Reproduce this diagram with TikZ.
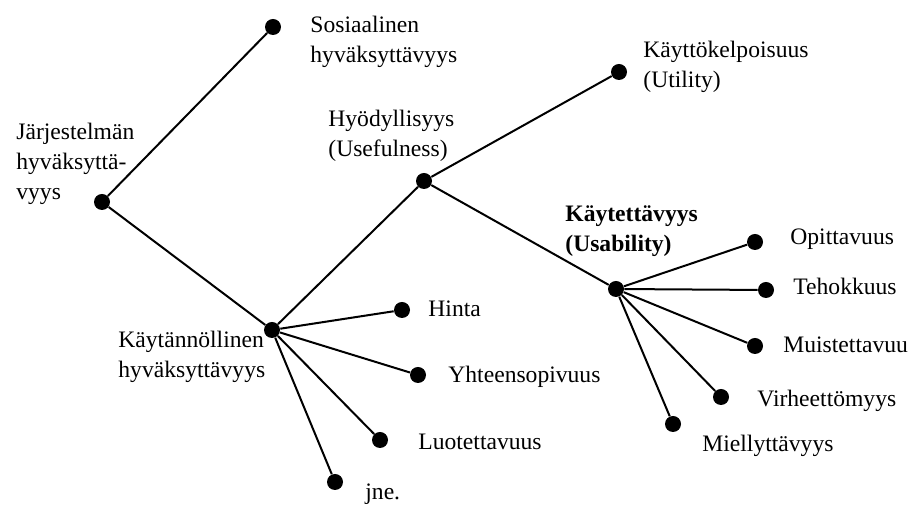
\documentclass[tikz,border=0pt]{standalone}
\usepackage{fontspec}
\setmainfont{Liberation Serif}
\tikzset{
  dot/.style={circle, fill=black, inner sep=0pt, minimum size=8pt},
  txt/.style={anchor=base west, inner sep=0pt, align=left, font=\fontsize{11.8}{15}\selectfont},
  branch/.style={line width=1pt}
}
\begin{document}
\begin{tikzpicture}[x=0.5pt, y=-0.5pt]
	\useasboundingbox (0,0) rectangle (917,506);
	
	%%%%% dots %%%%%
	\node[dot] (jh) at (102, 202) {};
	\node[dot] (sos) at (273, 27) {};
	\node[dot] (kh) at (272, 330) {};
	\node[dot] (hyo) at (424, 181) {};
	\node[dot] (util) at (619, 72) {};
	\node[dot] (usab) at (616, 289) {};
	
	\node[dot] (hinta) at (402, 310) {};
	\node[dot] (yht) at (418, 375) {};
	\node[dot] (luo) at (380, 440) {};
	\node[dot] (jne) at (335, 482) {};
	
	\node[dot] (opi) at (755, 242) {};
	\node[dot] (teh) at (766, 290) {};
	\node[dot] (mui) at (755, 346) {};
	\node[dot] (vir) at (721, 397) {};
	\node[dot] (mie) at (673, 424) {};
	
	%%%%% branches %%%%%
	\draw[branch] (jh) -- (sos);
	\draw[branch] (jh) -- (kh);
	\draw[branch] (kh) -- (hyo);
	\draw[branch] (hyo) -- (util);
	\draw[branch] (hyo) -- (usab);
	
	\draw[branch] (kh) -- (hinta);
	\draw[branch] (kh) -- (yht);
	\draw[branch] (kh) -- (luo);
	\draw[branch] (kh) -- (jne);
	
	\draw[branch] (usab) -- (opi);
	\draw[branch] (usab) -- (teh);
	\draw[branch] (usab) -- (mui);
	\draw[branch] (usab) -- (vir);
	\draw[branch] (usab) -- (mie);
	
	%%%%% labels (multi-line ones sit on their last baseline) %%%%%
	\node[txt] (jh-t) at (16, 200) {Järjestelmän\\hyväksyttä-\\vyys};
	\node[txt] (sos-t) at (310, 63) {Sosiaalinen\\hyväksyttävyys};
	\node[txt] (kh-t) at (118, 378) {Käytännöllinen\\hyväksyttävyys};
	\node[txt] (hyo-t) at (328, 157) {Hyödyllisyys\\(Usefulness)};
	\node[txt] (util-t) at (643, 88) {Käyttökelpoisuus\\(Utility)};
	\node[txt, font=\fontsize{11.8}{15}\selectfont\bfseries] (usab-t) at (565, 252) {Käytettävyys\\(Usability)};
	
	\node[txt] (hinta-t) at (428, 317) {Hinta};
	\node[txt] (yht-t) at (448, 383) {Yhteensopivuus};
	\node[txt] (luo-t) at (418, 450) {Luotettavuus};
	\node[txt] (jne-t) at (365, 500) {jne.};
	
	\node[txt] (opi-t) at (790, 245) {Opittavuus};
	\node[txt] (teh-t) at (793, 295) {Tehokkuus};
	\node[txt] (mui-t) at (783, 353) {Muistettavuu};
	\node[txt] (vir-t) at (757, 407) {Virheettömyys};
	\node[txt] (mie-t) at (702, 452) {Miellyttävyys};
\end{tikzpicture}
\end{document}
